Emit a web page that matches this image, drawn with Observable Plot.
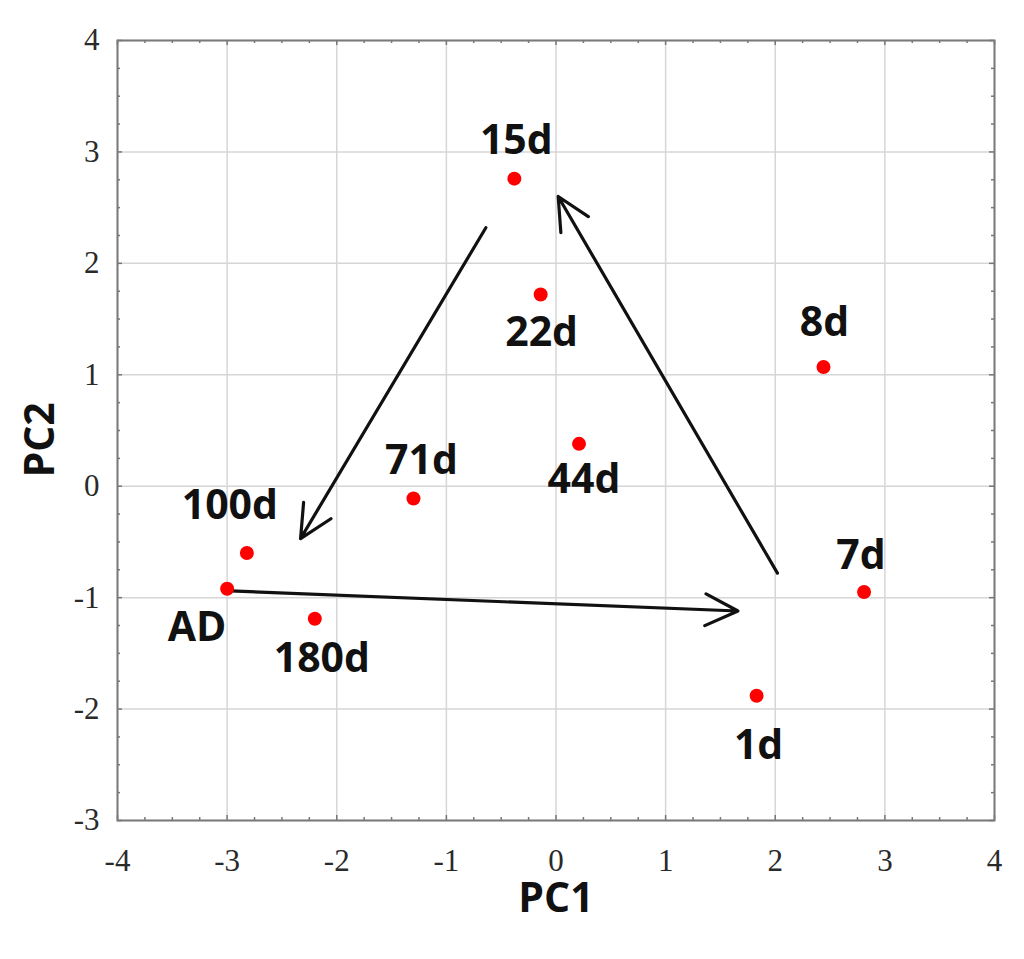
<!DOCTYPE html>
<html>
<head>
<meta charset="utf-8">
<script src="https://cdn.jsdelivr.net/npm/d3@7"></script>
<script src="https://cdn.jsdelivr.net/npm/@observablehq/plot@0.6"></script>
<style>
  html, body { margin: 0; padding: 0; background: #fff; }
  #chart svg { display: block; }
</style>
</head>
<body>
<div id="chart"></div>
<script>
// ---- data ----
const labels = ["15d", "22d", "8d", "44d", "71d", "100d", "AD", "180d", "7d", "1d"];
const pc1    = [-0.38, -0.14, 2.44, 0.21, -1.30, -2.82, -3.00, -2.20, 2.81, 1.83];
const pc2    = [ 2.76,  1.72, 1.07, 0.38, -0.11, -0.60, -0.92, -1.19, -0.95, -1.88];

// arrows (start -> end, data units)
const arrowX1 = [-0.64, -2.97, 2.02];
const arrowY1 = [ 2.32, -0.94, -0.78];
const arrowX2 = [-2.33,  1.66, 0.02];
const arrowY2 = [-0.47, -1.12, 2.60];

// tick values
const xTicks = [-4, -3, -2, -1, 0, 1, 2, 3, 4];
const yTicks = [-3, -2, -1, 0, 1, 2, 3, 4];

// ---- layout (pixels) ----
const W = 1024, H = 959;
const mL = 117, mR = 30, mT = 40, mB = 139;
const frameW = W - mL - mR, frameH = H - mT - mB;
// label offsets relative to each point (pixels)
const labelOffsets = [[2,-38],[1,38],[1,-44],[5,36],[8,-38],[-17,-47],[-30,39],[7,40],[-3,-36],[2,50]];

const minorX = d3.range(-4, 4.001, 0.25).filter(v => !Number.isInteger(v));
const minorY = d3.range(-3, 4.001, 0.25).filter(v => !Number.isInteger(v));

const points = labels.map((l, i) => ({label: l, x: pc1[i], y: pc2[i]}));
const arrows = arrowX1.map((_, i) => ({x1: arrowX1[i], y1: arrowY1[i], x2: arrowX2[i], y2: arrowY2[i]}));

const tickStroke = "#777";
const major = 5, minor = 3;

const chart = Plot.plot({
  width: W, height: H,
  marginLeft: mL, marginRight: mR, marginTop: mT, marginBottom: mB,
  x: {domain: [-4, 4]},
  y: {domain: [-3, 4]},
  style: {background: "#fff"},
  marks: [
    Plot.gridX(xTicks, {stroke: "#d6d6d6", strokeOpacity: 1, strokeWidth: 1.5}),
    Plot.gridY(yTicks, {stroke: "#d6d6d6", strokeOpacity: 1, strokeWidth: 1.5}),
    // inward ticks on all four sides
    Plot.ruleX(xTicks, {x: d => d, insetTop: frameH - major, stroke: tickStroke, strokeWidth: 1.5}),
    Plot.ruleX(minorX, {x: d => d, insetTop: frameH - minor, stroke: tickStroke, strokeWidth: 1.5}),
    Plot.ruleX(xTicks, {x: d => d, insetBottom: frameH - major, stroke: tickStroke, strokeWidth: 1.5}),
    Plot.ruleX(minorX, {x: d => d, insetBottom: frameH - minor, stroke: tickStroke, strokeWidth: 1.5}),
    Plot.ruleY(yTicks, {y: d => d, insetRight: frameW - major, stroke: tickStroke, strokeWidth: 1.5}),
    Plot.ruleY(minorY, {y: d => d, insetRight: frameW - minor, stroke: tickStroke, strokeWidth: 1.5}),
    Plot.ruleY(yTicks, {y: d => d, insetLeft: frameW - major, stroke: tickStroke, strokeWidth: 1.5}),
    Plot.ruleY(minorY, {y: d => d, insetLeft: frameW - minor, stroke: tickStroke, strokeWidth: 1.5}),
    Plot.frame({stroke: "#7a7a7a", strokeWidth: 2}),
    Plot.axisX({ticks: xTicks, tickSize: 0, tickPadding: 28, tickFormat: d => String(d),
      fontSize: 31, fontFamily: "Liberation Serif", fill: "#2a2a2a", label: null}),
    Plot.axisY({ticks: yTicks, tickSize: 0, tickPadding: 18, tickFormat: d => String(d),
      fontSize: 31, fontFamily: "Liberation Serif", fill: "#2a2a2a", label: null}),
    Plot.text(["PC1"], {frameAnchor: "bottom", dy: 78, lineAnchor: "middle", fontSize: 41,
      fontWeight: "bold", fontFamily: "Open Sans", fill: "#111"}),
    Plot.text(["PC2"], {frameAnchor: "left", dx: -77, dy: 47, rotate: -90, lineAnchor: "middle", fontSize: 41,
      fontWeight: "bold", fontFamily: "Open Sans", fill: "#111"}),
    Plot.arrow(arrows, {x1: "x1", y1: "y1", x2: "x2", y2: "y2", stroke: "#111", strokeWidth: 3.2,
      headLength: 17, headAngle: 52, bend: 0}),
    Plot.dot(points, {x: "x", y: "y", r: 7, fill: "#ff0000", stroke: "none"}),
    ...points.map((p, i) => Plot.text([p], {x: "x", y: "y", text: "label",
      dx: labelOffsets[i][0], dy: labelOffsets[i][1], lineAnchor: "middle",
      fontSize: 41, fontWeight: "bold", fontFamily: "Open Sans", fill: "#111"}))
  ]
});
document.getElementById("chart").appendChild(chart);
</script>
</body>
</html>
